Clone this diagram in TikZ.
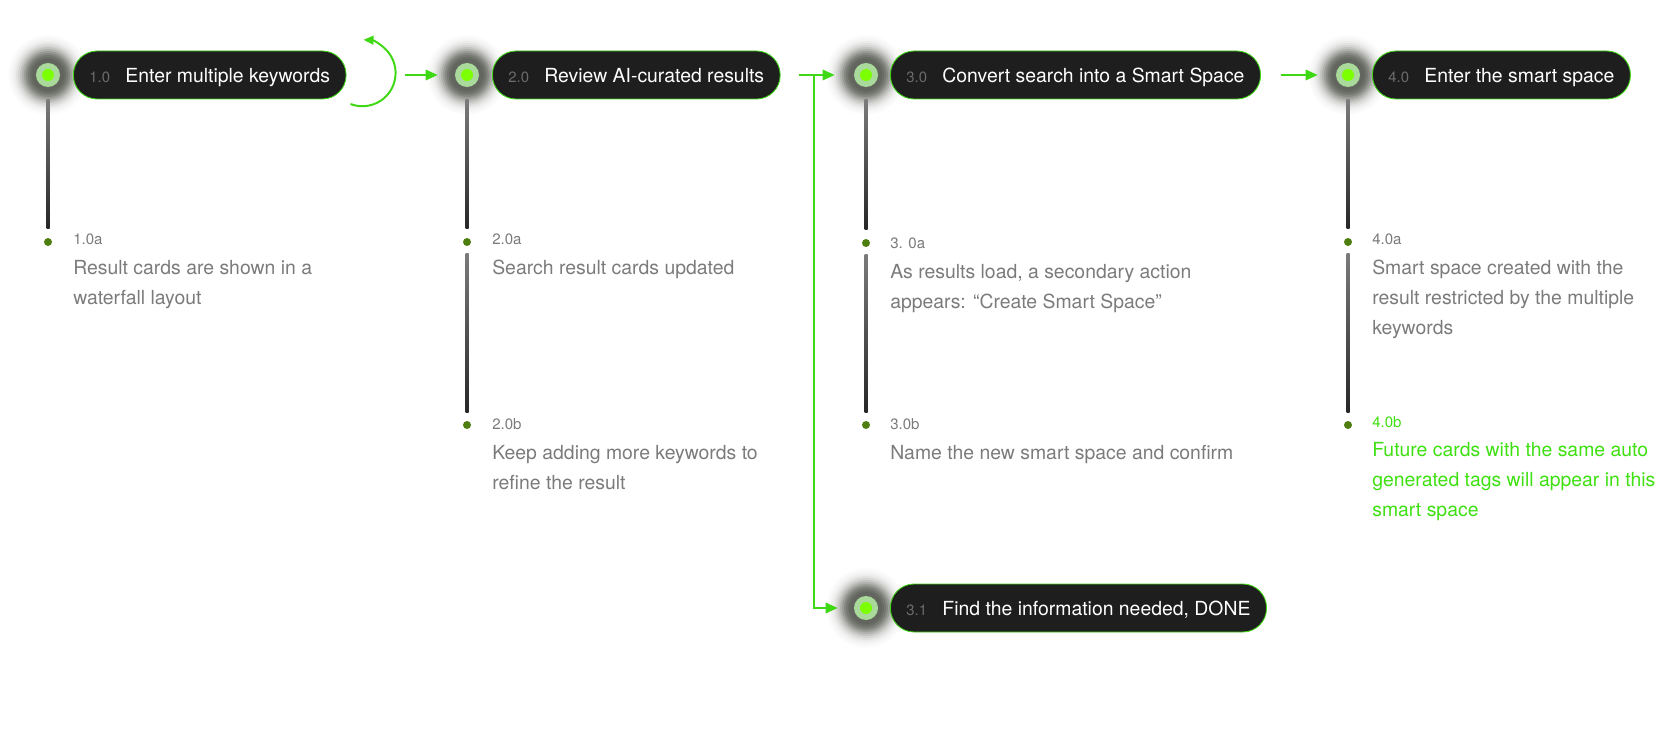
\documentclass[tikz,border=0pt]{standalone}
\usepackage{fontspec}
\setmainfont{TeX Gyre Heros}
\usetikzlibrary{arrows.meta, positioning, calc, backgrounds}
\definecolor{cgreen}{HTML}{3FD814}
\definecolor{cdot}{HTML}{7CFF00}
\definecolor{cring}{HTML}{A9D99B}
\definecolor{cpill}{HTML}{1E1E1E}
\definecolor{cnum}{HTML}{6B6B6B}
\definecolor{cgrey}{HTML}{7B7B7B}
\definecolor{cmoss}{HTML}{4E7E10}
\definecolor{clime}{HTML}{3FE012}
\definecolor{chalo}{HTML}{565A51}
\tikzset{
  pill/.style={fill=cpill, draw=cgreen, line width=0.6pt, rounded corners=0.59cm, minimum height=1.2cm, inner xsep=0.4cm, inner ysep=0pt, text depth=0pt, anchor=west, text=white, font=\fontsize{13.8}{16}\selectfont},
  stepdot/.style={circle, fill=cring, minimum size=0.6cm, inner sep=0pt, path picture={\fill[cdot] (path picture bounding box.center) circle (0.15);}},
  subdot/.style={circle, fill=cmoss, minimum size=0.2cm, inner sep=0pt},
  numtag/.style={anchor=west, inner sep=0pt, text=cgrey, font=\fontsize{10.7}{13}\selectfont},
  note/.style={anchor=north west, inner sep=0pt, align=left, text=cgrey, font=\fontsize{13.8}{21.3}\selectfont},
  flow/.style={-{Triangle[length=0.3cm, width=0.26cm]}, draw=cgreen, line width=1.4pt},
  spine/.style={top color=cgrey, bottom color=black!85},
}
\newcommand{\stepno}[1]{\makebox[0.9cm][l]{\color{cnum}\fontsize{10.6}{12}\selectfont #1}}

\begin{document}
\begin{tikzpicture}
  \useasboundingbox (0,0) rectangle (42,-18.425);
  % main steps: a glowing dot with a pill beside it
  \foreach \n/\x/\px/\y/\k/\t in {1/1.2/1.825/-1.875/1.0/Enter multiple keywords, 2/11.675/12.3/-1.875/2.0/Review AI-curated results,
                                  3/21.65/22.25/-1.875/3.0/Convert search into a Smart Space, 4/33.7/34.3/-1.875/4.0/Enter the smart space,
                                  31/21.65/22.25/-15.2/3.1/{Find the information needed, DONE}} {
    \node[stepdot] (d\n) at (\x,\y) {};
    \node[pill] (p\n) at (\px,\y) {\stepno{\k}\t};
  }
  \begin{scope}[on background layer]
    \foreach \n in {1,2,3,4,31}
      \foreach \r/\p in {1.0/2, 0.95/4, 0.9/7, 0.85/11, 0.8/17, 0.75/25, 0.7/35, 0.65/47, 0.6/60, 0.55/72, 0.5/82, 0.45/89, 0.4/93}
        \fill[chalo!\p!white] (d\n) circle (\r);
  \end{scope}
  % sub steps hang under each dot
  \foreach \n/\x/\y in {1a/1.2/-6.05, 2a/11.675/-6.05, 2b/11.675/-10.625, 3a/21.65/-6.075, 3b/21.65/-10.625, 4a/33.7/-6.05, 4b/33.7/-10.625}
    \node[subdot] (s\n) at (\x,\y) {};
  \foreach \n/\x/\y/\k/\t in {1a/1.825/-5.975/1.0a/{Result cards are shown in a\\ waterfall layout},
                              2a/12.3/-5.975/2.0a/{Search result cards updated},
                              2b/12.3/-10.6/2.0b/{Keep adding more keywords to\\ refine the result},
                              3a/22.25/-6.075/3. 0a/{As results load, a secondary action\\ appears: “Create Smart Space”},
                              3b/22.25/-10.6/3.0b/{Name the new smart space and confirm},
                              4a/34.3/-5.975/4.0a/{Smart space created with the\\ result restricted by the multiple\\ keywords}} {
    \node[numtag] (l\n) at (\x,\y) {\k};
    \node[note] (n\n) at ($(l\n.west)+(0,-0.525)$) {\t};
  }
  \node[numtag, text=clime] (l4b) at (34.3,-10.55) {4.0b};
  \node[note, text=clime] (n4b) at ($(l4b.west)+(0,-0.5)$) {Future cards with the same auto\\ generated tags will appear in this\\ smart space};
  \foreach \a/\b in {d1/s1a, d2/s2a, d3/s3a, d4/s4a}
    \shade[spine] ($(\a.south)+(-0.0375,-0.3)$) rectangle ($(\b.north)+(0.0375,0.225)$);
  \foreach \a/\b in {s2a/s2b, s3a/s3b, s4a/s4b}
    \shade[spine] ($(\a.south)+(-0.0375,-0.175)$) rectangle ($(\b.north)+(0.0375,0.2)$);
  % connectors
  \draw[flow, -{Triangle[length=0.25cm, width=0.22cm]}] ($(p1.east)+(0.1,-0.725)$) arc[start angle=-111, end angle=88, radius=0.83];
  \draw[flow, shorten >=0.425cm] ($(p1.east)+(1.45,0)$) -- (d2.west);
  \draw[flow, shorten >=0.475cm] ($(p2.east)+(0.45,0)$) -- (d3.west);
  \draw[flow, shorten >=0.4cm] ($(p2.east)+(0.825,0)$) |- (d31.west);
  \draw[flow, shorten >=0.45cm] ($(p3.east)+(0.5,0)$) -- (d4.west);
\end{tikzpicture}
\end{document}
